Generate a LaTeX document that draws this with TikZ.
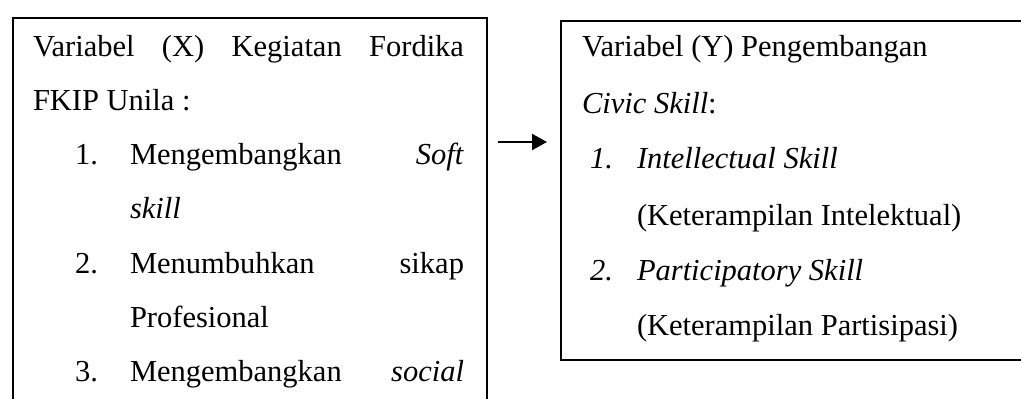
\documentclass[tikz,border=0pt]{standalone}
\usepackage{fontspec}
\setmainfont{Liberation Serif}
\usetikzlibrary{arrows.meta}
\begin{document}
\begin{tikzpicture}[x={(1pt,0)},y={(0,-1pt)},
  box/.style={draw=black,line width=1.6pt,rectangle,inner sep=0pt,anchor=north west},
  txt/.style={anchor=base west,inner sep=0pt,outer sep=0pt,font=\fontsize{30.5}{36}\selectfont},
  txtr/.style={anchor=base east,inner sep=0pt,outer sep=0pt,font=\fontsize{30.5}{36}\selectfont},
  conn/.style={line width=2.2pt,-{Triangle[length=15pt,width=16pt]}}]
\useasboundingbox (0,0) rectangle (1021,399);
\fill[white] (0,0) rectangle (1021,399);
% boxes
\node[box,minimum width=474pt,minimum height=420pt] (leftbox) at (12,17) {};
\node[box,minimum width=480pt,minimum height=339pt] (rightbox) at (560,20) {};
% left box text
\node[txt] (l1) at (33,56) {\hbox to 431pt{Variabel\hfill(X)\hfill Kegiatan\hfill Fordika}};
\node[txt] (l2) at (33,110) {FKIP Unila :};
\node[txt] (l3n) at (75,164) {1.};
\node[txt] (l3a) at (130,164) {Mengembangkan};
\node[txtr] (l3b) at (464,164) {\textit{Soft}};
\node[txt] (l4) at (130,218) {\textit{skill}};
\node[txt] (l5n) at (75,273) {2.};
\node[txt] (l5a) at (130,273) {Menumbuhkan};
\node[txtr] (l5b) at (464,273) {sikap};
\node[txt] (l6) at (130,327) {Profesional};
\node[txt] (l7n) at (75,381) {3.};
\node[txt] (l7a) at (130,381) {Mengembangkan};
\node[txtr] (l7b) at (464,381) {\textit{social}};
% right box text
\node[txt] (r1) at (582,56) {Variabel (Y) Pengembangan};
\node[txt] (r2) at (582,113) {\textit{Civic Skill}:};
\node[txt] (r3n) at (590,168) {\textit{1.}};
\node[txt] (r3a) at (637,168) {\textit{Intellectual Skill}};
\node[txt] (r4) at (637,225) {(Keterampilan Intelektual)};
\node[txt] (r5n) at (590,280) {\textit{2.}};
\node[txt] (r5a) at (637,280) {\textit{Participatory Skill}};
\node[txt] (r6) at (637,335) {(Keterampilan Partisipasi)};
% arrow
\coordinate (ay) at (0,142);
\draw[conn,shorten <=10pt,shorten >=13pt] (leftbox.east |- ay) -- (rightbox.west |- ay);
\end{tikzpicture}
\end{document}
